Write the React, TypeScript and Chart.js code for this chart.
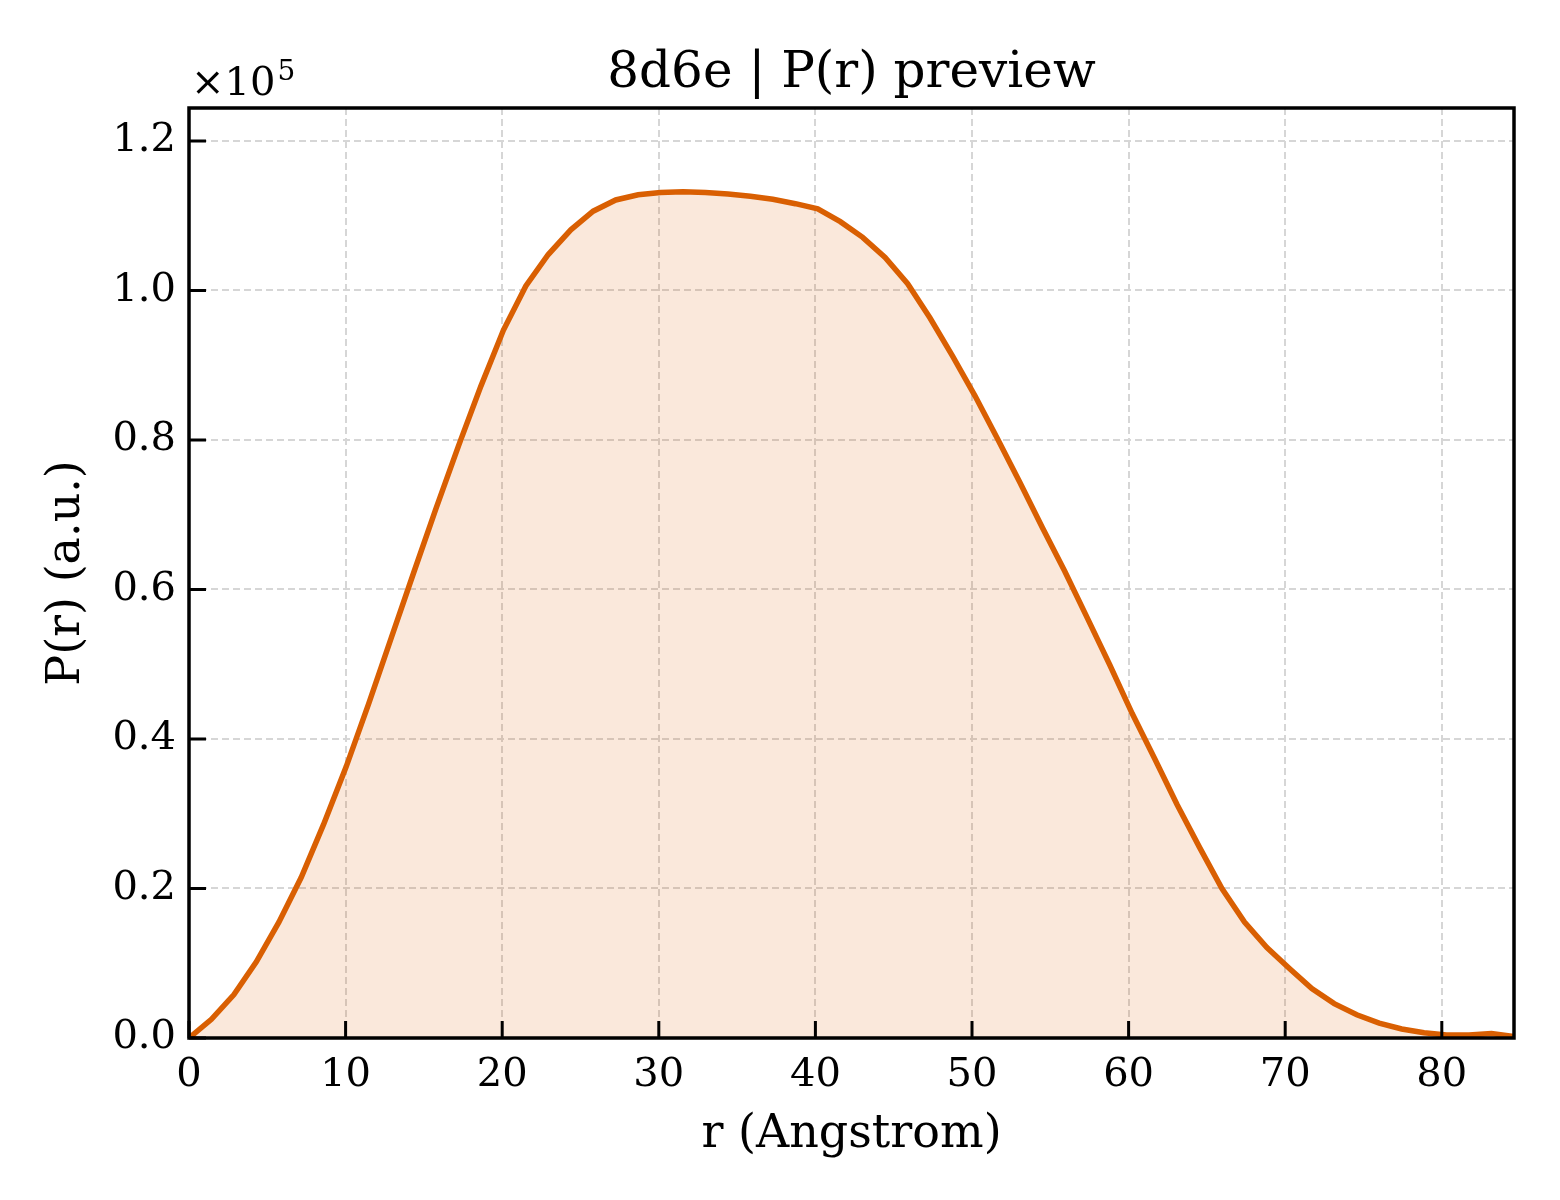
import { useEffect, useRef } from "react";
import { Chart, registerables } from "chart.js";

Chart.register(...registerables);

// r grid (Angstrom)
const rValues = [
  0.0, 1.43, 2.87, 4.3, 5.74, 7.17, 8.6, 10.04, 11.47, 12.91,
  14.34, 15.77, 17.21, 18.64, 20.08, 21.51, 22.94, 24.38, 25.81, 27.25,
  28.68, 30.11, 31.55, 32.98, 34.42, 35.85, 37.28, 38.72, 40.15, 41.59,
  43.02, 44.45, 45.89, 47.32, 48.76, 50.19, 51.62, 53.06, 54.49, 55.93,
  57.36, 58.8, 60.23, 61.66, 63.1, 64.53, 65.96, 67.4, 68.83, 70.27,
  71.7, 73.13, 74.57, 76.0, 77.44, 78.87, 80.3, 81.74, 83.17, 84.61,
];

// P(r) in a.u.
const prValues = [
  0, 2500, 5800, 10200, 15500, 21500, 28600, 36300, 44700, 53500,
  62200, 70800, 79200, 87200, 94700, 100600, 104800, 108100, 110600, 112100,
  112800, 113100, 113200, 113100, 112900, 112600, 112200, 111600, 110900, 109200,
  107100, 104400, 100900, 96300, 91200, 85900, 80200, 74300, 68300, 62400,
  56200, 49900, 43400, 37400, 31200, 25500, 20000, 15500, 12100, 9300,
  6600, 4600, 3100, 2000, 1200, 700, 400, 400, 600, 200,
];

const xTicks = [0, 10, 20, 30, 40, 50, 60, 70, 80];
const yTicks = [0, 20000, 40000, 60000, 80000, 100000, 120000];

const FONT = "'DejaVu Serif', 'Liberation Serif', serif";
const LINE = "#d95f02";
const TITLE = "8d6e | P(r) preview";

const framePlugin = {
  id: "frame",
  afterDraw(chart: any) {
    const { ctx, chartArea: a, scales } = chart;
    ctx.save();
    ctx.strokeStyle = "#000";
    ctx.lineWidth = 3;
    ctx.lineCap = "butt";
    // inward tick marks
    ctx.beginPath();
    xTicks.forEach((v) => {
      const px = scales.x.getPixelForValue(v);
      ctx.moveTo(px, a.bottom);
      ctx.lineTo(px, a.bottom - 17);
    });
    yTicks.forEach((v) => {
      const py = scales.y.getPixelForValue(v);
      ctx.moveTo(a.left, py);
      ctx.lineTo(a.left + 17, py);
    });
    ctx.stroke();
    ctx.lineWidth = 3.5;
    ctx.strokeRect(a.left, a.top, a.right - a.left, a.bottom - a.top);

    ctx.fillStyle = "#000";
    ctx.textBaseline = "alphabetic";
    // title centred on the axes
    ctx.textAlign = "center";
    ctx.font = `50px ${FONT}`;
    ctx.fillText(TITLE, (a.left + a.right) / 2, a.top - 21);
    // offset text
    ctx.textAlign = "left";
    ctx.font = `40px ${FONT}`;
    ctx.fillText("×10", a.left + 2, a.top - 13);
    const w = ctx.measureText("×10").width;
    ctx.font = `28px ${FONT}`;
    ctx.fillText("5", a.left + 4 + w, a.top - 28);
    ctx.restore();
  },
};

export default function App() {
  const canvasRef = useRef<HTMLCanvasElement | null>(null);

  useEffect(() => {
    document.body.style.margin = "0";
    if (!canvasRef.current) return;
    const chart = new Chart(canvasRef.current, {
      type: "line",
      data: {
        datasets: [
          {
            data: rValues.map((r, i) => ({ x: r, y: prValues[i] })),
            borderColor: LINE,
            borderWidth: 5.5,
            backgroundColor: "rgba(217, 95, 2, 0.14)",
            fill: "origin",
            pointRadius: 0,
            tension: 0,
          },
        ],
      },
      options: {
        animation: false,
        responsive: false,
        devicePixelRatio: 1,
        layout: { padding: { top: 108, right: 46, bottom: 0, left: 0 } },
        plugins: {
          legend: { display: false },
          tooltip: { enabled: false },
          title: { display: false },
        },
        scales: {
          x: {
            type: "linear",
            min: 0,
            max: 84.61,
            afterBuildTicks: (s: any) => {
              s.ticks = xTicks.map((v) => ({ value: v }));
            },
            afterFit: (s: any) => {
              s.height = 162;
            },
            grid: { color: "#d6d6d6", lineWidth: 2, drawTicks: false },
            border: { display: false, dash: [7, 4] },
            ticks: {
              color: "#000",
              padding: 14,
              maxRotation: 0,
              font: { family: FONT, size: 40 },
              callback: (v: any) => String(v),
            },
            title: {
              display: true,
              text: "r (Angstrom)",
              color: "#000",
              font: { family: FONT, size: 46 },
              padding: { top: 0, bottom: 37 },
            },
          },
          y: {
            type: "linear",
            min: 0,
            max: 124400,
            afterBuildTicks: (s: any) => {
              s.ticks = yTicks.map((v) => ({ value: v }));
            },
            afterFit: (s: any) => {
              s.width = 189;
            },
            grid: { color: "#d6d6d6", lineWidth: 2, drawTicks: false },
            border: { display: false, dash: [7, 4] },
            ticks: {
              color: "#000",
              padding: 13,
              font: { family: FONT, size: 40 },
              callback: (v: any) => (Number(v) / 1e5).toFixed(1),
            },
            title: {
              display: true,
              text: "P(r) (a.u.)",
              color: "#000",
              font: { family: FONT, size: 46 },
              padding: { top: 39, bottom: 0 },
            },
          },
        },
      },
      plugins: [framePlugin],
    });
    return () => chart.destroy();
  }, []);

  return (
    <div style={{ width: 1560, height: 1200, background: "#fff" }}>
      <canvas ref={canvasRef} width={1560} height={1200} />
    </div>
  );
}
